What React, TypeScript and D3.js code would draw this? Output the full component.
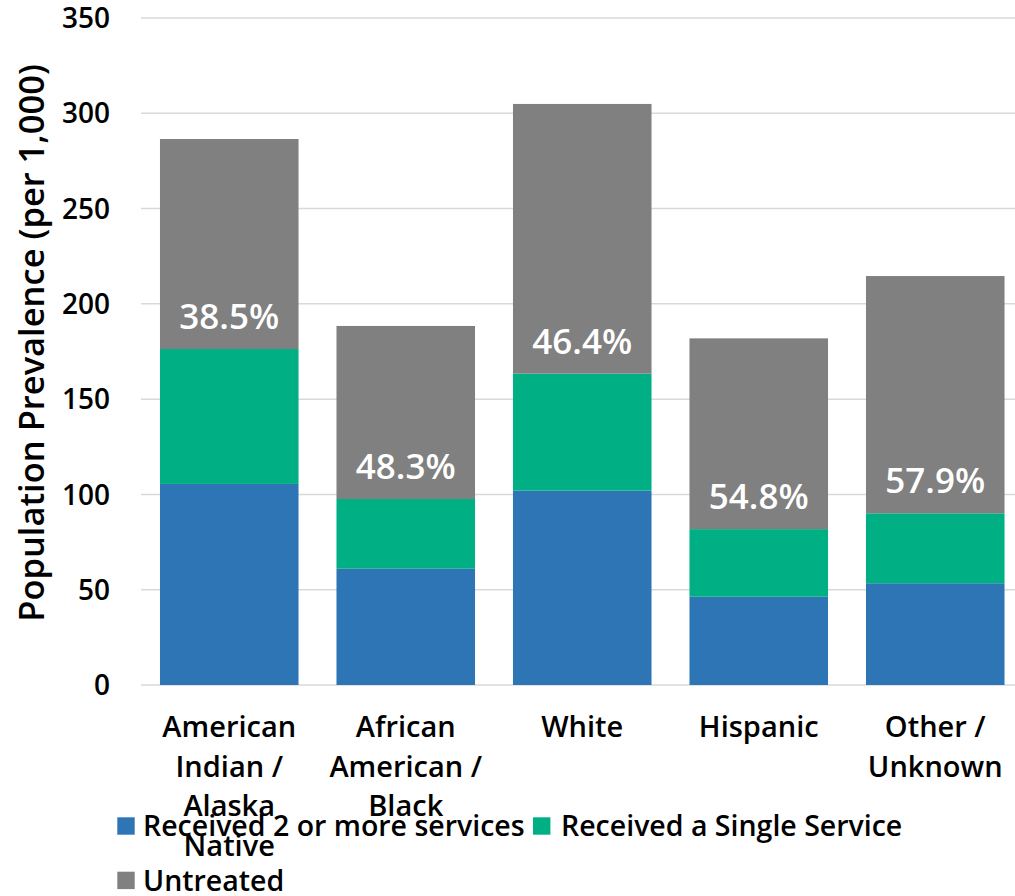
import React from "react";
import * as d3 from "d3";

const categories = [
  ["American", "Indian /", "Alaska", "Native"],
  ["African", "American /", "Black"],
  ["White"],
  ["Hispanic"],
  ["Other /", "Unknown"],
];
const categoryKeys = ["AIAN", "AAB", "White", "Hispanic", "Other"];
const twoOrMore = [105.5, 61, 102, 46.3, 53.4];
const singleService = [70.8, 36.6, 61.4, 35.5, 36.7];
const untreated = [110.2, 90.8, 141.5, 100.1, 124.5];
const pctLabels = ["38.5%", "48.3%", "46.4%", "54.8%", "57.9%"];
const yTicks = [0, 50, 100, 150, 200, 250, 300, 350];
const seriesNames = ["Received 2 or more services", "Received a Single Service", "Untreated"];
const colors = ["#2E75B6", "#00B084", "#808080"];

const FONT = "'Open Sans', sans-serif";

export default function App() {
  const W = 1015, H = 896;
  const x = d3.scaleBand<string>().domain(categoryKeys).range([141, 1023.5]).paddingInner(0.215).paddingOuter(0.1075);
  const y = d3.scaleLinear().domain([0, 350]).range([685, 18]);

  const rows = categoryKeys.map((k, i) => ({ key: k, a: twoOrMore[i], b: singleService[i], c: untreated[i] }));
  const stack = d3.stack<any>().keys(["a", "b", "c"])(rows);

  return (
    <svg width={W} height={H} style={{ position: "absolute", left: 0, top: 0, background: "#fff" }}>
      {yTicks.map((t) => (
        <g key={t}>
          <line x1={141} x2={W} y1={y(t)} y2={y(t)} stroke="#d9d9d9" strokeWidth={1.5} />
          <text x={110} y={y(t)} dy="0.36em" textAnchor="end" fontFamily={FONT} fontWeight={600} fontSize={28} fill="#000">
            {t}
          </text>
        </g>
      ))}
      {stack.map((s, si) => (
        <g key={si} fill={colors[si]}>
          {s.map((d, i) => (
            <rect key={i} x={x(categoryKeys[i])} width={x.bandwidth()} y={y(d[1])} height={y(d[0]) - y(d[1])} />
          ))}
        </g>
      ))}
      {stack[2].map((d, i) => (
        <text key={i} x={(x(categoryKeys[i]) as number) + x.bandwidth() / 2} y={y(d[0]) - 20} textAnchor="middle"
          fontFamily={FONT} fontWeight={600} fontSize={35} fill="#fff">
          {pctLabels[i]}
        </text>
      ))}
      {categories.map((lines, i) => (
        <text key={i} textAnchor="middle" fontFamily={FONT} fontWeight={600} fontSize={29} fill="#000">
          {lines.map((l, j) => (
            <tspan key={j} x={(x(categoryKeys[i]) as number) + x.bandwidth() / 2} y={737 + j * 39.5}>{l}</tspan>
          ))}
        </text>
      ))}
      <text transform={`translate(44,${343}) rotate(-90)`} textAnchor="middle" fontFamily={FONT} fontWeight={600} fontSize={34.5} fill="#000">
        Population Prevalence (per 1,000)
      </text>
      {/* legend */}
      <rect x={117.3} y={817.3} width={17.4} height={17.4} fill={colors[0]} />
      <text x={143} y={836} fontFamily={FONT} fontWeight={600} fontSize={28.5} fill="#000">{seriesNames[0]}</text>
      <rect x={533} y={817.3} width={17.4} height={17.4} fill={colors[1]} />
      <text x={561} y={836} fontFamily={FONT} fontWeight={600} fontSize={28.5} fill="#000">{seriesNames[1]}</text>
      <rect x={117.3} y={871.7} width={17.4} height={17.4} fill={colors[2]} />
      <text x={143} y={891} fontFamily={FONT} fontWeight={600} fontSize={28.5} fill="#000">{seriesNames[2]}</text>
    </svg>
  );
}
